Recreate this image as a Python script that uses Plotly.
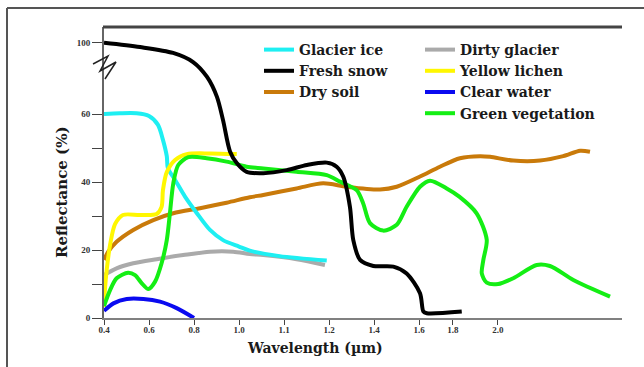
import numpy as np
import plotly.graph_objects as go

# ---------------- axis definitions (hand-drawn, non-uniform axis) ----------------
x_tick_labels = ["0.4", "0.6", "0.8", "1.0", "1.1", "1.2", "1.4", "1.6", "1.8", "2.0"]
x_scale_wl = [0.4, 0.6, 0.8, 1.0, 1.1, 1.2, 1.4, 1.6, 1.8, 2.0, 2.2, 2.4, 2.6]
x_scale_pos = [0, 1, 2, 3, 4, 5, 6, 7, 7.75, 8.75, 9.75, 10.75, 11.75]

y_tick_values = [0, 10, 20, 30, 40, 50, 60, 100]
y_tick_labels = ["0", "", "20", "", "40", "", "60", "100"]
y_break_at = 60
y_break_ratio = 0.5235  # compression of the axis above the break

# ---------------- data (wavelength in µm, reflectance in %) ----------------
glacier_ice_wl = [0.40, 0.47, 0.545, 0.60, 0.64, 0.662, 0.679, 0.684, 0.716, 0.76, 0.812,
                  0.871, 0.929, 1.0, 1.024, 1.09, 1.195]
glacier_ice_r = [60.0, 60.4, 60.4, 59.4, 56.8, 52.4, 47.6, 44.1, 40.6, 35.7, 30.9,
                 25.9, 22.9, 21.0, 19.8, 18.2, 16.9]

fresh_snow_wl = [0.40, 0.56, 0.707, 0.796, 0.858, 0.902, 0.929, 0.96, 0.99, 1.017, 1.054,
                 1.106, 1.151, 1.195, 1.234, 1.263, 1.293, 1.308, 1.338, 1.397, 1.486,
                 1.545, 1.606, 1.626, 1.646, 1.84]
fresh_snow_r = [100, 97.6, 94.3, 89.2, 80.8, 69.6, 58.2, 49.0, 45.6, 43.0, 42.6,
                43.5, 45.0, 45.7, 44.5, 41.6, 32.7, 22.9, 17.1, 15.3, 15.1,
                13.1, 7.3, 1.9, 1.4, 1.9]

dry_soil_wl = [0.40, 0.419, 0.456, 0.53, 0.619, 0.708, 0.827, 0.945, 1.024, 1.054, 1.128,
               1.187, 1.278, 1.427, 1.501, 1.606, 1.724, 1.832, 1.921, 1.966, 2.069,
               2.188, 2.291, 2.366, 2.41]
dry_soil_r = [17.1, 19.5, 22.4, 25.9, 28.8, 30.8, 32.3, 33.9, 35.5, 36.2, 38.1,
              39.6, 38.6, 37.8, 38.6, 41.6, 44.5, 47.0, 47.6, 47.4, 46.3,
              46.3, 47.6, 49.2, 48.9]

dirty_glacier_wl = [0.40, 0.456, 0.53, 0.634, 0.752, 0.871, 0.974, 1.024, 1.054, 1.128, 1.191]
dirty_glacier_r = [12.6, 14.6, 16.1, 17.3, 18.5, 19.5, 19.5, 18.8, 18.5, 17.3, 15.6]

yellow_lichen_wl = [0.40, 0.404, 0.412, 0.427, 0.449, 0.484, 0.56, 0.634, 0.656, 0.662,
                    0.679, 0.716, 0.768, 0.871, 0.99]
yellow_lichen_r = [3.2, 8.2, 14.1, 21.5, 27.6, 30.3, 30.3, 30.6, 32.7, 37.6,
                   42.9, 46.5, 48.2, 48.4, 48.2]

clear_water_wl = [0.40, 0.442, 0.501, 0.575, 0.649, 0.723, 0.80]
clear_water_r = [2.1, 4.3, 5.6, 5.6, 4.8, 2.9, 0.0]

green_veg_wl = [0.40, 0.427, 0.456, 0.507, 0.538, 0.568, 0.597, 0.627, 0.656, 0.679, 0.693,
                0.708, 0.73, 0.775, 0.856, 0.945, 1.017, 1.054, 1.128, 1.195, 1.249,
                1.323, 1.352, 1.382, 1.441, 1.501, 1.545, 1.606, 1.665, 1.764, 1.829,
                1.906, 1.951, 1.936, 1.929, 1.951, 2.002, 2.069, 2.173, 2.232, 2.336, 2.499]
green_veg_r = [3.5, 8.2, 11.7, 13.3, 12.6, 10.2, 8.5, 10.7, 16.1, 22.9, 30.8,
               39.6, 45.0, 47.3, 47.0, 46.0, 44.5, 44.0, 43.0, 42.0, 40.1,
               37.6, 33.7, 27.9, 25.7, 27.4, 32.7, 38.6, 40.4, 38.1, 35.7,
               30.8, 23.0, 17.1, 13.1, 10.4, 10.0, 11.7, 15.6, 15.3, 11.2, 6.3]


# ---------------- scales ----------------
def xs(wl):
    return np.interp(np.asarray(wl, float), x_scale_wl, x_scale_pos)


def ys(r):
    r = np.asarray(r, float)
    return np.where(r <= y_break_at, r, y_break_at + (r - y_break_at) * y_break_ratio)


SERIF = "Liberation Serif"
WIDE_SERIF = "DejaVu Serif"

series = [
    # name, wl, r, color, legend, legendrank
    ("Dirty glacier", dirty_glacier_wl, dirty_glacier_r, "#AAAAAA", "legend2", 4),
    ("Dry soil", dry_soil_wl, dry_soil_r, "#C97A0A", "legend", 3),
    ("Glacier ice", glacier_ice_wl, glacier_ice_r, "#1EEFF2", "legend", 1),
    ("Yellow lichen", yellow_lichen_wl, yellow_lichen_r, "#FFF700", "legend2", 5),
    ("Green vegetation", green_veg_wl, green_veg_r, "#14EE14", "legend2", 7),
    ("Clear water", clear_water_wl, clear_water_r, "#0A0AF0", "legend2", 6),
    ("Fresh snow", fresh_snow_wl, fresh_snow_r, "#000000", "legend", 2),
]

fig = go.Figure()
for name, wl, r, color, leg, rank in series:
    fig.add_trace(go.Scatter(
        x=xs(wl), y=ys(r), mode="lines", name=name,
        line=dict(color=color, width=4, shape="spline", smoothing=0.8),
        legend=leg, legendrank=rank, hoverinfo="skip",
    ))

W, H = 644, 367
ML, MR, MT, MB = 104, 22, 27, 49
PW, PH = W - ML - MR, H - MT - MB


def px_to_paper(px, py):
    return (px - ML) / PW, (H - MB - py) / PH


x_max = PW / 45.0
y_max = 60 + (114 - 27) / 3.4

legend_font = dict(family=WIDE_SERIF, size=14, color="#1a1a1a", weight="bold")

fig.update_layout(
    width=W, height=H,
    margin=dict(l=ML, r=MR, t=MT, b=MB),
    paper_bgcolor="white", plot_bgcolor="white",
    xaxis=dict(
        range=[0, x_max], tickmode="array",
        tickvals=list(xs([float(t) for t in x_tick_labels])), ticktext=x_tick_labels,
        ticks="outside", ticklen=5, tickwidth=1, tickcolor="#444",
        ticklabelstandoff=-3,
        showline=True, linecolor="#808080", linewidth=2,
        showgrid=False, zeroline=False,
        tickfont=dict(family=SERIF, size=9, color="#333", weight="bold"),
    ),
    yaxis=dict(
        range=[0, y_max], tickmode="array",
        tickvals=list(ys(y_tick_values)), ticktext=y_tick_labels,
        ticks="outside", ticklen=10, tickwidth=1, tickcolor="#444",
        showline=True, linecolor="#666", linewidth=2,
        showgrid=False, zeroline=False,
        tickfont=dict(family=SERIF, size=9, color="#333", weight="bold"),
    ),
    legend=dict(x=px_to_paper(259, 0)[0], y=px_to_paper(0, 34)[1], xanchor="left", yanchor="top",
                bgcolor="rgba(0,0,0,0)", font=legend_font, itemwidth=30, tracegroupgap=0),
    legend2=dict(x=px_to_paper(420, 0)[0], y=px_to_paper(0, 34)[1], xanchor="left", yanchor="top",
                 bgcolor="rgba(0,0,0,0)", font=legend_font, itemwidth=30, tracegroupgap=0),
)

# axis titles
wx, wy = px_to_paper(315, 348)
fig.add_annotation(x=wx, y=wy, xref="paper", yref="paper", showarrow=False,
                   xanchor="center", yanchor="middle",
                   text="Wavelength (µm)",
                   font=dict(family=WIDE_SERIF, size=14, color="#1a1a1a", weight="bold"))
rx, ry = px_to_paper(62, 192)
fig.add_annotation(x=rx, y=ry, xref="paper", yref="paper", showarrow=False, textangle=-90,
                   xanchor="center", yanchor="middle",
                   text="Reflectance (%)",
                   font=dict(family=WIDE_SERIF, size=15, color="#1a1a1a", weight="bold"))

# top line of the inner box
x0, y0 = px_to_paper(103, 27)
x1, _ = px_to_paper(622, 27)
fig.add_shape(type="line", xref="paper", yref="paper", x0=x0, y0=y0, x1=x1, y1=y0,
              line=dict(color="#444", width=3))

# outer frame (left and top edges)
fx, fy = px_to_paper(7, 8)
_, fb = px_to_paper(0, 370)
fr, _ = px_to_paper(650, 0)
fig.add_shape(type="line", xref="paper", yref="paper", x0=fx, y0=fb, x1=fx, y1=fy,
              line=dict(color="#555", width=2))
fig.add_shape(type="line", xref="paper", yref="paper", x0=fx, y0=fy, x1=fr, y1=fy,
              line=dict(color="#555", width=2))

# axis-break zigzag
zig = [(93, 64), (108, 56), (100, 71), (116, 62), (105, 79)]
pts = [px_to_paper(a, b) for a, b in zig]
path = "M " + " L ".join(f"{p[0]:.4f},{p[1]:.4f}" for p in pts)
fig.add_shape(type="path", xref="paper", yref="paper", path=path,
              line=dict(color="#222", width=1.5))

fig.write_html("out.html", config={"displayModeBar": False},
               post_script="document.body.style.margin='0';document.body.style.overflow='hidden';")
